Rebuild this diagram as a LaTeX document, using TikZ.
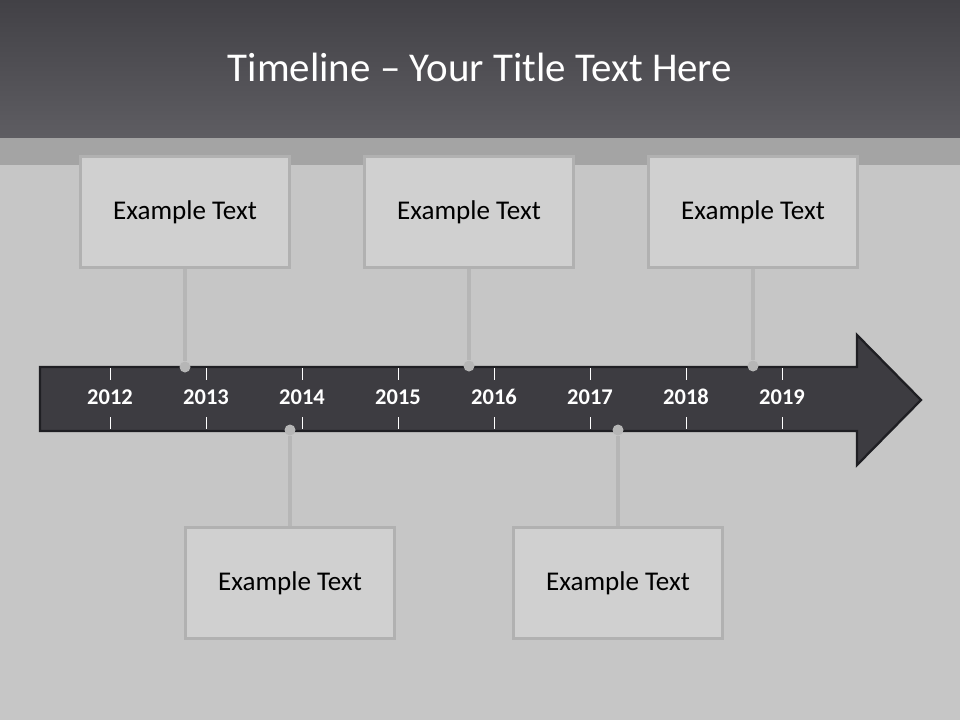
\documentclass[tikz,border=0pt]{standalone}
\usepackage{fontspec}
\setmainfont{Carlito}
\usetikzlibrary{positioning,calc}
\definecolor{HeadTop}{HTML}{424146}
\definecolor{HeadBot}{HTML}{5E5D62}
\definecolor{WallBg}{HTML}{C6C6C6}
\definecolor{WallBand}{HTML}{A4A4A4}
\definecolor{ArrowFill}{HTML}{3D3C41}
\definecolor{ArrowEdge}{HTML}{1F1F23}
\definecolor{BoxFill}{HTML}{D0D0D0}
\definecolor{BoxEdge}{HTML}{B1B1B1}
\definecolor{PinGray}{HTML}{B6B6B6}
\begin{document}
\begin{tikzpicture}[x=0.02cm,y=-0.02cm,
  box/.style={draw=BoxEdge,fill=BoxFill,line width=1.8pt,minimum width=4.18cm,minimum height=2.22cm,inner sep=0pt,font=\fontsize{15.4}{18}\selectfont},
  pin/.style={circle,fill=PinGray,inner sep=0pt,minimum size=0.22cm},
  yr/.style={text=white,font=\fontsize{12.8}{14}\selectfont\bfseries},
  tie/.style={PinGray,line width=2.2pt}]
  \useasboundingbox (0,0) rectangle (960,720);
  % wall and header
  \fill[WallBg] (0,0) rectangle (960,720);
  \fill[WallBand] (0,137) rectangle (960,165);
  \shade[top color=HeadTop,bottom color=HeadBot] (0,0) rectangle (960,137);
  \node[text=white,font=\fontsize{23.3}{28}\selectfont] (title) at (480,67) {Timeline -- Your Title Text Here};
  % the arrow
  \draw[fill=ArrowFill,draw=ArrowEdge,line width=1.3pt,line join=miter]
    (40,367) -- (857,367) -- (857,335) -- (921,400) -- (857,465) -- (857,431) -- (40,431) -- cycle;
  \foreach \x in {110,206,302,398,494,590,686,782}
    \draw[white,line width=0.5pt] (\x,368) -- (\x,380) (\x,417) -- (\x,429);
  \node[yr] (y2012) at (110,397) {2012};
  \node[yr] (y2013) at (206,397) {2013};
  \node[yr] (y2014) at (302,397) {2014};
  \node[yr] (y2015) at (398,397) {2015};
  \node[yr] (y2016) at (494,397) {2016};
  \node[yr] (y2017) at (590,397) {2017};
  \node[yr] (y2018) at (686,397) {2018};
  \node[yr] (y2019) at (782,397) {2019};
  % boxes above and below
  \node[box] (b1) at (185,212) {Example Text};
  \node[box] (b2) at (469,212) {Example Text};
  \node[box] (b3) at (753,212) {Example Text};
  \node[box] (b4) at (290,583) {Example Text};
  \node[box] (b5) at (618,583) {Example Text};
  \node[pin] (p1) at (185,367) {};
  \node[pin] (p2) at (469,366) {};
  \node[pin] (p3) at (753,366) {};
  \node[pin] (p4) at (290,430) {};
  \node[pin] (p5) at (618,430) {};
  \draw[tie] (b1) -- (p1);
  \draw[tie] (b2) -- (p2);
  \draw[tie] (b3) -- (p3);
  \draw[tie] (b4) -- (p4);
  \draw[tie] (b5) -- (p5);
\end{tikzpicture}
\end{document}
